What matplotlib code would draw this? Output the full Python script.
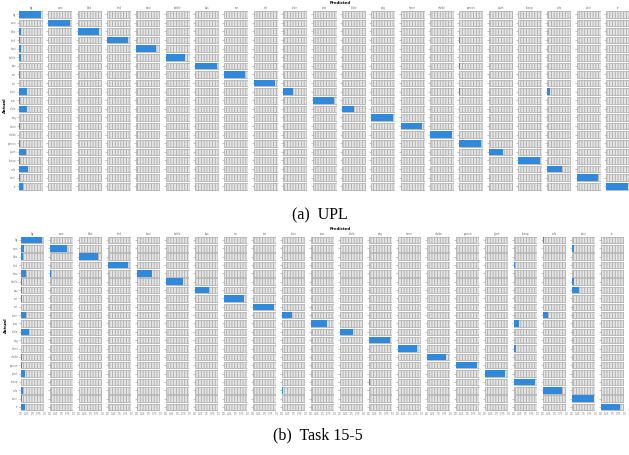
import numpy as np
import matplotlib
matplotlib.use("Agg")
import matplotlib.pyplot as plt

# Pascal VOC classes (background + 20)
classes = ["bg", "aero", "bike", "bird", "boat", "bottle", "bus", "car", "cat",
           "chair", "cow", "table", "dog", "horse", "mbike", "person", "plant",
           "sheep", "sofa", "train", "tv"]

# (a) UPL: diagonal (correct), rows 1..20 predicted as background, other confusions
upl_diag = [0.92, 0.92, 0.87, 0.87, 0.80, 0.80, 0.90, 0.85, 0.90, 0.40, 0.90,
            0.50, 0.90, 0.90, 0.90, 0.90, 0.60, 0.90, 0.60, 0.90, 0.90]
upl_bg = [0.02, 0.07, 0.03, 0.10, 0.10, 0.01, 0.04, 0.01, 0.33, 0.03,
          0.33, 0.02, 0.03, 0.02, 0.03, 0.30, 0.03, 0.38, 0.05, 0.15]
upl_other = [(9, 18, 0.10), (3, 15, 0.02), (6, 15, 0.02), (6, 19, 0.03), (9, 15, 0.02)]

# (b) Task 15-5
t155_diag = [0.90, 0.73, 0.83, 0.87, 0.65, 0.75, 0.60, 0.85, 0.92, 0.45, 0.70,
             0.55, 0.90, 0.80, 0.83, 0.88, 0.85, 0.88, 0.80, 0.93, 0.80]
t155_bg = [0.15, 0.10, 0.02, 0.20, 0.03, 0.03, 0.04, 0.01, 0.20, 0.02,
           0.33, 0.01, 0.02, 0.05, 0.04, 0.17, 0.02, 0.10, 0.03, 0.17]
t155_other = [(4, 1, 0.03), (18, 9, 0.04), (17, 12, 0.03), (5, 15, 0.02),
              (3, 16, 0.02), (5, 16, 0.02), (3, 17, 0.03), (10, 17, 0.23),
              (13, 17, 0.08), (0, 18, 0.03), (9, 18, 0.22), (1, 19, 0.08),
              (5, 19, 0.07), (6, 19, 0.32), (7, 19, 0.02), (14, 19, 0.02),
              (5, 20, 0.02), (16, 20, 0.02), (14, 7, 0.02)]


def build(diag, bg, other):
    m = np.zeros((21, 21))
    m[np.arange(21), np.arange(21)] = diag
    m[1:, 0] = bg
    for a, p, v in other:
        m[a, p] = v
    return m


W, H = 629, 455
BLUE = "#3189db"
plt.rcParams["hatch.linewidth"] = 0.6
fig = plt.figure(figsize=(W / 100, H / 100), dpi=100)
rows = np.arange(21)


def draw_panel(m, top_px, pitch_y, left_px, pitch_x, width_px, xlabels):
    height_px = 21 * pitch_y
    for j in range(21):
        ax = fig.add_axes([(left_px + j * pitch_x) / W, 1 - (top_px + height_px) / H,
                           width_px / W, height_px / H])
        ax.barh(rows, np.ones(21), height=0.78, color="#e6e6e6",
                edgecolor="#a8a8a8", hatch="||||||", lw=0.5)
        ax.barh(rows, m[:, j], height=0.78, color=BLUE, lw=0)
        ax.set_xlim(0, 1)
        ax.set_ylim(20.5, -0.5)
        for s in ax.spines.values():
            s.set_visible(False)
        ax.patch.set_visible(False)
        ax.set_yticks(rows)
        ax.set_yticklabels(classes if j == 0 else [], fontsize=1.8, color="#777777")
        ax.tick_params(axis="y", length=1.5, width=0.4, color="#999999", pad=0.5)
        ax.set_xticks([0, 0.25, 0.5, 0.75, 1.0])
        if xlabels:
            ax.set_xticklabels(["0.0", "0.25", "0.5", "0.75", "1.0"], fontsize=1.8,
                               color="#777777")
            ax.tick_params(axis="x", length=0, pad=0.5)
        else:
            ax.tick_params(axis="x", length=0, labelbottom=False)
        ax.set_title(classes[j], fontsize=1.8, pad=0.8, color="#666666")


draw_panel(build(upl_diag, upl_bg, upl_other), 10.0, 8.6, 19, 29.35, 24, False)
draw_panel(build(t155_diag, t155_bg, t155_other), 235.8, 8.35, 21, 29.0, 23.3, True)

fig.text(340 / W, 1 - 3.5 / H, "Predicted", fontsize=2.8, fontweight="bold",
         ha="center", va="center")
fig.text(340 / W, 1 - 229.5 / H, "Predicted", fontsize=2.8, fontweight="bold",
         ha="center", va="center")
fig.text(5 / W, 1 - 105 / H, "Actual", fontsize=3.2, fontweight="bold",
         rotation=90, ha="center", va="center")
fig.text(6 / W, 1 - 325 / H, "Actual", fontsize=3.2, fontweight="bold",
         rotation=90, ha="center", va="center")

fig.text(320 / W, 1 - 215 / H, "(a)  UPL", fontsize=11.5, family="Liberation Serif",
         ha="center", va="center")
fig.text(318 / W, 1 - 435 / H, "(b)  Task 15-5", fontsize=11.5,
         family="Liberation Serif", ha="center", va="center")

fig.savefig("out.png", dpi=100)
